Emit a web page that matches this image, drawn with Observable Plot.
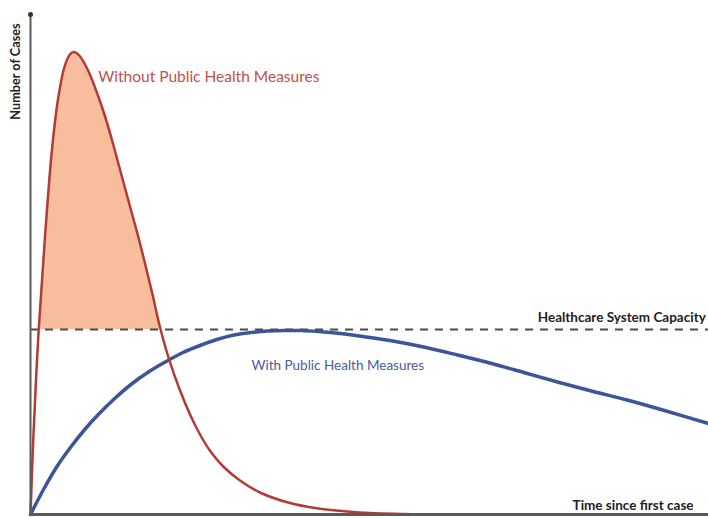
<!DOCTYPE html>
<html>
<head>
<meta charset="utf-8">
<script src="https://cdn.jsdelivr.net/npm/d3@7"></script>
<script src="https://cdn.jsdelivr.net/npm/@observablehq/plot@0.6"></script>
<style>
  html, body { margin: 0; padding: 0; background: #fff; }
  #chart svg { display: block; }
</style>
</head>
<body>
<div id="chart"></div>
<script>
// Time since first case (arbitrary units 0..100) and number of cases (arbitrary units 0..100)
const redTime  = [0, 0.4, 1.2, 2.2, 3.2, 4.1, 5.0, 5.8, 6.4, 7.2, 8.5, 10, 11, 12, 13, 14, 15, 16, 17, 18, 19, 20.4, 22, 23.6, 25, 26.5, 28.5, 31, 34, 38, 42, 48, 55, 65, 100];
const redCases = [0, 14.8, 36.8, 56.8, 73.4, 83.4, 89.5, 92.0, 92.5, 91.8, 88.8, 83.6, 79.6, 75.0, 70.0, 65.0, 60.0, 55.0, 49.6, 44.0, 38.0, 31.2, 25.0, 19.8, 16.0, 12.7, 9.5, 6.7, 4.3, 2.4, 1.3, 0.45, 0.1, 0, 0];

const blueTime  = [0, 2, 4, 6, 8, 10, 12.5, 15, 17.5, 20, 22.5, 25, 27.5, 30, 32.5, 35, 37.5, 40, 42.5, 45, 48, 53, 58, 63, 68, 73, 78, 83, 88, 94, 100];
const blueCases = [0, 5.2, 9.8, 13.6, 17.0, 20.0, 23.3, 26.2, 28.6, 30.6, 32.4, 33.8, 35.0, 35.9, 36.4, 36.7, 36.8, 36.8, 36.6, 36.3, 35.8, 34.8, 33.5, 31.9, 30.2, 28.3, 26.4, 24.6, 22.9, 20.6, 18.2];

const capacity = 37;
const domainT = [0, 100];
const domainC = [0, 100];

const labels = {
  without: "Without Public Health Measures",
  with: "With Public Health Measures",
  capacity: "Healthcare System Capacity",
  xAxis: "Time since first case",
  yAxis: "Number of Cases"
};

const red = redTime.map((t, i) => ({t, v: redCases[i]}));
const blue = blueTime.map((t, i) => ({t, v: blueCases[i]}));

const font = "Lato, 'Open Sans', sans-serif";

const chart = Plot.plot({
  width: 708,
  height: 518,
  marginLeft: 30,
  marginRight: 0,
  marginTop: 14,
  marginBottom: 4,
  style: {fontFamily: font, background: "#fff"},
  x: {domain: domainT, axis: null},
  y: {domain: domainC, axis: null},
  marks: [
    // shaded excess above capacity
    Plot.areaY(red, {x: "t", y: "v", curve: "catmull-rom", fill: "#f8bd9c"}),
    Plot.areaY([{t: domainT[0]}, {t: domainT[1]}], {x: "t", y1: 0, y2: capacity, fill: "#fff"}),
    // capacity line
    Plot.ruleY([capacity], {stroke: "#4a4a4a", strokeWidth: 2, strokeDasharray: "8,7"}),
    // curves
    Plot.line(blue, {x: "t", y: "v", curve: "catmull-rom", stroke: "#3c5499", strokeWidth: 3.5}),
    Plot.line(red, {x: "t", y: "v", curve: "catmull-rom", stroke: "#b23b36", strokeWidth: 2.5}),
    // axes
    Plot.ruleX([0], {y1: 0, y2: domainC[1], stroke: "#5a5a5a", strokeWidth: 2}),
    Plot.ruleY([0], {stroke: "#5a5a5a", strokeWidth: 3}),
    Plot.dot([0], {x: 0, y: domainC[1], r: 2.5, fill: "#333"}),
    // labels
    Plot.text([labels.without], {x: 10.0, y: 87.4, text: d => d, textAnchor: "start", fill: "#c0504d", fontSize: 15.5}),
    Plot.text([labels.with], {x: 32.6, y: 29.8, text: d => d, textAnchor: "start", fill: "#4a5c9c", fontSize: 13.5}),
    Plot.text([labels.capacity], {x: 99.6, y: 39.4, text: d => d, textAnchor: "end", fill: "#222", fontSize: 13.5, fontWeight: "bold"}),
    Plot.text([labels.xAxis], {x: 97.8, y: 1.8, text: d => d, textAnchor: "end", fill: "#222", fontSize: 13.5, fontWeight: "bold"}),
    Plot.text([labels.yAxis], {x: -2.2, y: 88.6, text: d => d, rotate: -90, textAnchor: "middle", fill: "#222", fontSize: 12.7, fontWeight: "bold"})
  ]
});

document.getElementById("chart").appendChild(chart);
</script>
</body>
</html>
